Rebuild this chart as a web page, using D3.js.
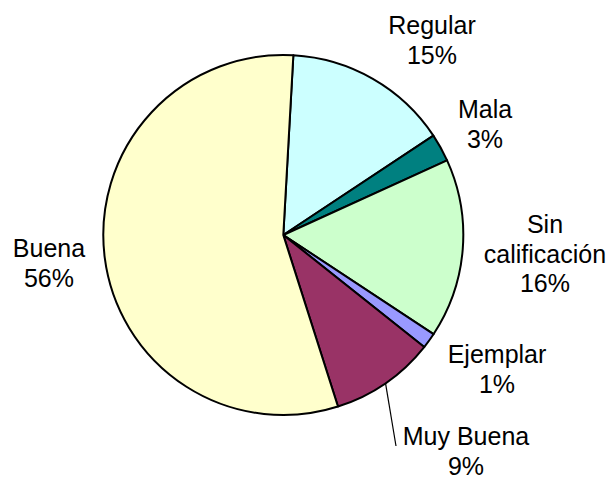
<!DOCTYPE html>
<html>
<head>
<meta charset="utf-8">
<script src="https://cdn.jsdelivr.net/npm/d3@7"></script>
<style>
  html, body { margin: 0; padding: 0; background: #fff; }
  text { font-family: "Liberation Sans", Arial, sans-serif; font-size: 25px; fill: #000; }
</style>
</head>
<body>
<svg id="chart" width="613" height="479"></svg>
<script>
// slices, clockwise from the top
var categories = ['Regular', 'Mala', 'Sin calificación', 'Ejemplar', 'Muy Buena', 'Buena'];
var values = [14.8, 2.5, 16.1, 1.4, 9.4, 55.8];
var colors = ['#CCFFFF', '#008080', '#CCFFCC', '#9999FF', '#993366', '#FFFFCC'];
// label text lines (the last line is the percentage)
var labelLines = [['Regular'], ['Mala'], ['Sin', 'calificación'], ['Ejemplar'], ['Muy Buena'], ['Buena']];

// layout: label centre x and first baseline y, per slice
var labelAt = [[432, 34], [485, 118], [545, 233], [497, 363], [466, 445], [49, 257]];
var lineH = 29.5;

var cx = 283.3, cy = 235, radius = 180;
var startDeg = 3.2;

var svg = d3.select('#chart');
var g = svg.append('g').attr('transform', 'translate(' + cx + ',' + cy + ')');

var pie = d3.pie()
    .sort(null)
    .value(function(d) { return d; })
    .startAngle(startDeg * Math.PI / 180)
    .endAngle(startDeg * Math.PI / 180 + 2 * Math.PI);

var arc = d3.arc().innerRadius(0).outerRadius(radius);
var arcs = pie(values);

g.selectAll('path.slice')
    .data(arcs)
    .enter().append('path')
    .attr('class', 'slice')
    .attr('d', arc)
    .attr('fill', function(d, i) { return colors[i]; })
    .attr('stroke', '#000')
    .attr('stroke-width', 2)
    .attr('stroke-linejoin', 'round');

// leader line for Muy Buena
var mb = arcs[4];
var mid = (mb.startAngle + mb.endAngle) / 2;
svg.append('line')
    .attr('x1', cx + radius * Math.sin(mid))
    .attr('y1', cy - radius * Math.cos(mid))
    .attr('x2', 396).attr('y2', 446)
    .attr('stroke', '#000').attr('stroke-width', 1.2);

var labels = svg.selectAll('text.lbl')
    .data(arcs)
    .enter().append('text')
    .attr('class', 'lbl')
    .attr('text-anchor', 'middle');

labels.each(function(d, i) {
    var t = d3.select(this);
    var lines = labelLines[i].concat([Math.round(values[i]) + '%']);
    lines.forEach(function(s, k) {
        t.append('tspan')
            .attr('x', labelAt[i][0])
            .attr('y', labelAt[i][1] + k * lineH)
            .text(s);
    });
});
</script>
</body>
</html>
